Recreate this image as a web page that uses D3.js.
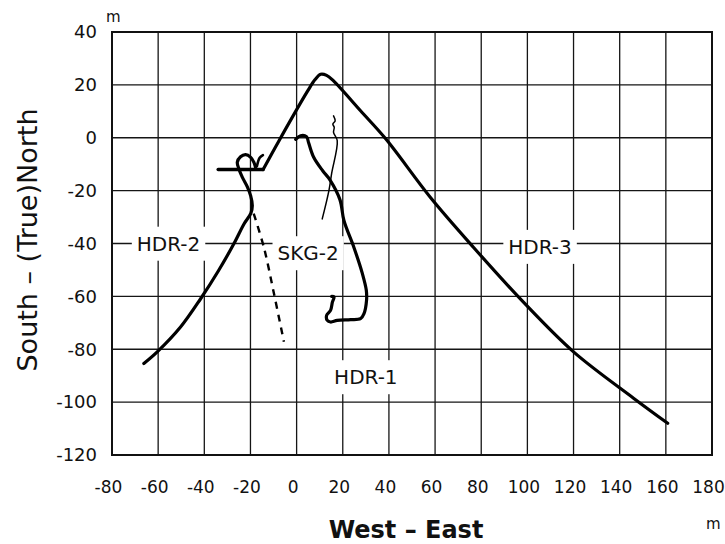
<!DOCTYPE html>
<html>
<head>
  <meta charset="UTF-8">
  <title>Well trajectories</title>
  <script src="https://cdnjs.cloudflare.com/ajax/libs/d3/7.8.5/d3.min.js"></script>
  <style>
    body { margin: 0; background: #fff; }
    text { font-family: "DejaVu Sans", sans-serif; fill: #111; }
  </style>
</head>
<body>
<script>
  // axis ticks (m)
  var xTicks = d3.range(-80, 181, 20);
  var yTicks = d3.range(-120, 41, 20);

  // well tracks [east, north] in m
  var hdr3 = [[-14.5,-12],[-7.8,-1.4],[4.8,17.7],[8,22],[10.4,24],[13,23.6],[16,21.5],
              [27.7,10.2],[38.6,-0.4],[58,-22.6],[76.7,-41.5],[98.4,-62.3],[120,-81],
              [146,-98.5],[160.8,-108]];
  var head = [[-34,-12],[-14.5,-12]];
  var hook = [[-17.2,-10.8],[-16.0,-7.6],[-14.6,-6.6]];
  var hdr2 = [[-17.8,-11.2],[-18.5,-9.3],[-19.9,-7.4],[-22.1,-6.4],[-24.3,-7.2],[-25.7,-9.3],
              [-25,-11.8],[-23.5,-15],[-21.4,-18.5],[-19.9,-22],[-19.2,-25.7],[-19.8,-28.5],
              [-22.8,-32.6],[-27.2,-40.1],[-34,-50.5],[-41.6,-60.9],[-50.3,-71.6],
              [-60.4,-81],[-66.2,-85.4]];
  var hdr1 = [[-0.4,-0.6],[1.7,0.75],[4.3,0.4],[5.2,-1.9],[7.4,-7.4],[11.3,-12.5],[14.5,-16],
              [18.8,-23.5],[20.5,-31.3],[24.8,-41.4],[28.5,-51.4],[30.2,-57.7],[30.3,-61.5],
              [29.2,-66.5],[27.7,-68.4],[23.4,-68.8],[17.6,-69.1],[14.7,-69.7],[13.3,-69.1],
              [13,-67.2],[14.7,-65.3],[15.5,-62.2],[16.2,-60.2],[15.2,-60]];
  var skg2 = [[16,8.3],[16.7,6.4],[15.7,5.2],[16.3,3.9],[16,2.0],[17.6,-1.1],[15.2,-13.4],
              [14,-20],[11.1,-30.7]];
  var skg2dash = [[-18.6,-28.7],[-14.2,-41.4],[-9.8,-59],[-5.5,-77.2]];

  var labelNames = ["HDR-2", "SKG-2", "HDR-3", "HDR-1"];
  var labelAt = [[-55.5,-40],[5,-43.6],[105.5,-41.2],[30,-90.5]];

  var W = 725, H = 544;
  var svg = d3.select("body").append("svg").attr("width", W).attr("height", H);

  var x = d3.scaleLinear().domain([-80, 180]).range([112, 712]);
  var y = d3.scaleLinear().domain([-120, 40]).range([455, 32]);

  // grid
  var grid = svg.append("g").attr("stroke", "#151515").attr("stroke-width", 1.3);
  grid.selectAll("line.v").data(xTicks).enter().append("line")
    .attr("x1", x).attr("x2", x).attr("y1", y(40)).attr("y2", y(-120));
  grid.selectAll("line.h").data(yTicks).enter().append("line")
    .attr("y1", y).attr("y2", y).attr("x1", x(-80)).attr("x2", x(180));
  svg.append("rect")
    .attr("x", x(-80)).attr("y", y(40))
    .attr("width", x(180) - x(-80)).attr("height", y(-120) - y(40))
    .attr("fill", "none").attr("stroke", "#111").attr("stroke-width", 2);

  // axes: tick labels only
  var xAxis = d3.axisBottom(x).tickValues(xTicks).tickSize(0).tickPadding(0)
    .tickFormat(function(d) { return String(d); });
  svg.append("g").attr("transform", "translate(-4,487)").call(xAxis)
    .call(function(g) { g.select(".domain").remove(); })
    .selectAll("text").attr("font-size", 17).attr("font-family", "DejaVu Sans")
    .attr("fill", "#111").attr("dy", "0.35em");

  var yAxis = d3.axisLeft(y).tickValues(yTicks).tickSize(0).tickPadding(0)
    .tickFormat(function(d) { return String(d); });
  svg.append("g").attr("transform", "translate(97,0)").call(yAxis)
    .call(function(g) { g.select(".domain").remove(); })
    .selectAll("text").attr("font-size", 18).attr("font-family", "DejaVu Sans")
    .attr("fill", "#111");

  // unit marks
  svg.append("text").attr("x", 106).attr("y", 22).attr("font-size", 15).text("m");
  svg.append("text").attr("x", 706).attr("y", 529).attr("font-size", 15).text("m");

  // axis titles
  svg.append("text").attr("x", 406).attr("y", 538).attr("text-anchor", "middle")
    .attr("font-size", 24).attr("font-weight", "bold").text("West \u2013 East");
  svg.append("text").attr("transform", "translate(37,240) rotate(-90)")
    .attr("text-anchor", "middle").attr("font-size", 27)
    .text("South \u2013 (True)North");

  // labels with a white box over the grid
  var lab = svg.append("g").selectAll("g").data(labelNames).enter().append("g");
  lab.append("text")
    .attr("x", function(d, i) { return x(labelAt[i][0]); })
    .attr("y", function(d, i) { return y(labelAt[i][1]); })
    .attr("dy", "0.36em").attr("text-anchor", "middle").attr("font-size", 20)
    .text(function(d) { return d; });
  lab.each(function() {
    var g = d3.select(this), b = g.select("text").node().getBBox();
    g.insert("rect", "text").attr("x", b.x - 5).attr("y", b.y - 5)
      .attr("width", b.width + 10).attr("height", b.height + 10).attr("fill", "#fff");
  });

  // tracks
  var line = d3.line().x(function(d) { return x(d[0]); }).y(function(d) { return y(d[1]); })
    .curve(d3.curveCatmullRom.alpha(0.5));
  var tracks = svg.append("g").attr("fill", "none").attr("stroke", "#000")
    .attr("stroke-linecap", "round").attr("stroke-linejoin", "round");
  [hdr3, hdr2, hdr1].forEach(function(t) {
    tracks.append("path").attr("d", line(t)).attr("stroke-width", 3.2);
  });
  tracks.append("path").attr("d", line.curve(d3.curveLinear)(head)).attr("stroke-width", 3.4);
  line.curve(d3.curveCatmullRom.alpha(0.5));
  tracks.append("path").attr("d", line(hook)).attr("stroke-width", 2.6);
  tracks.append("path").attr("d", line(skg2)).attr("stroke-width", 1.5);
  tracks.append("path").attr("d", line(skg2dash)).attr("stroke-width", 2.4)
    .attr("stroke-linecap", "butt").attr("stroke-dasharray", "7,6");
</script>
</body>
</html>
